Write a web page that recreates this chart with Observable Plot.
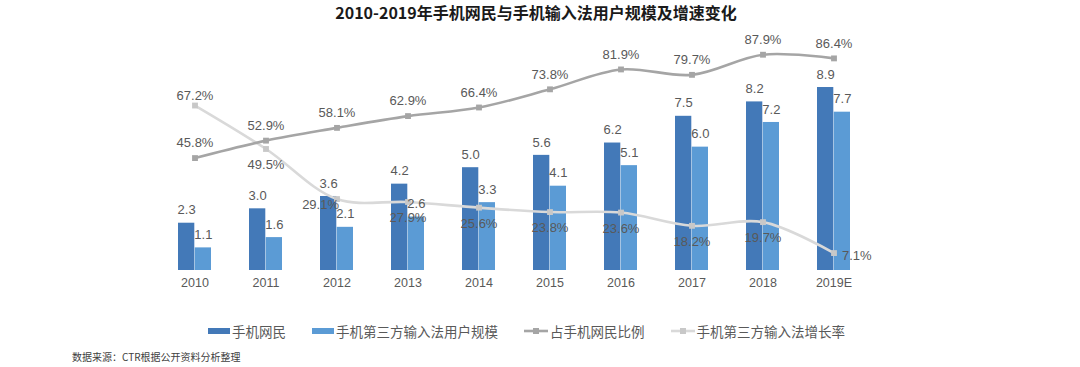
<!DOCTYPE html>
<html>
<head>
<meta charset="utf-8">
<script src="https://cdn.jsdelivr.net/npm/d3@7"></script>
<script src="https://cdn.jsdelivr.net/npm/@observablehq/plot@0.6"></script>
<style>
  html, body { margin: 0; padding: 0; background: #fff; }
  body { width: 1080px; height: 367px; overflow: hidden; position: relative; font-family: "Liberation Sans", Arial, sans-serif; }
  #title { position: absolute; left: 0; top: 0; width: 1072px; height: 25px; line-height: 25px; text-align: center;
    font-family: "Noto Sans CJK SC", sans-serif; font-weight: bold; font-size: 16px; color: #1a1a1a; }
  #chart { position: absolute; left: 0; top: 26px; }
  #chart svg { overflow: visible; }
  #legend { position: absolute; left: 208px; top: 320px; height: 22px; display: flex; align-items: center;
    font-family: "Noto Sans CJK SC", sans-serif; font-size: 13.5px; color: #595959; }
  .item { display: flex; align-items: center; margin-right: 26px; }
  .item svg { margin-right: 2px; }
  #source { position: absolute; left: 72px; top: 349px; font-family: "Noto Sans CJK SC", sans-serif; font-size: 10px; color: #404040; }
</style>
</head>
<body>
<div id="title">2010-2019年手机网民与手机输入法用户规模及增速变化</div>
<div id="chart"></div>
<div id="legend"></div>
<div id="source">数据来源：CTR根据公开资料分析整理</div>
<script>
// ---- data ----
const years = ["2010","2011","2012","2013","2014","2015","2016","2017","2018","2019E"];
const mobileNetizens = [2.3, 3.0, 3.6, 4.2, 5.0, 5.6, 6.2, 7.5, 8.2, 8.9];       // 手机网民 (亿)
const imeUsers       = [1.1, 1.6, 2.1, 2.6, 3.3, 4.1, 5.1, 6.0, 7.2, 7.7];       // 手机第三方输入法用户规模 (亿)
const imeShare       = [45.8, 52.9, 58.1, 62.9, 66.4, 73.8, 81.9, 79.7, 87.9, 86.4]; // 占手机网民比例 (%)
const imeGrowth      = [67.2, 49.5, 29.1, 27.9, 25.6, 23.8, 23.6, 18.2, 19.7, 7.1];  // 手机第三方输入法增长率 (%)
const seriesNames = ["手机网民", "手机第三方输入法用户规模", "占手机网民比例", "手机第三方输入法增长率"];

// ---- styles ----
const darkBlue = "#4379b8";
const lightBlue = "#5b9bd5";
const shareGray = "#a5a5a5";
const growthGray = "#d9d9d9";
const growthMarker = "#c8c8c8";
const labelColor = "#595959";
const PCT = 0.1194; // secondary (percent) axis expressed in primary-axis units
const half = 16.7;

const rows = years.map((y, i) => ({
  year: y, a: mobileNetizens[i], b: imeUsers[i], share: imeShare[i], growth: imeGrowth[i],
  shareY: imeShare[i] * PCT, growthY: imeGrowth[i] * PCT
}));

const txt = {fill: labelColor, fontSize: 13, fontFamily: "Liberation Sans, Arial, sans-serif", stroke: "none"};

const chart = Plot.plot({
  width: 1080,
  height: 290,
  marginLeft: 137,
  marginRight: 188,
  marginTop: 0,
  marginBottom: 46,
  style: {background: "transparent", overflow: "visible"},
  x: {type: "band", domain: years, padding: 0.534, label: null, tickSize: 0, tickPadding: 8},
  y: {domain: [0, 10], range: [244, 38.4], axis: null},
  marks: [
    Plot.axisX({tickSize: 0, tickPadding: 8, fontSize: 12.5, color: labelColor, label: null,
      fontFamily: "Liberation Sans, Arial, sans-serif"}),
    Plot.barY(rows, {x: "year", y: "a", fill: darkBlue, insetRight: half}),
    Plot.barY(rows, {x: "year", y: "b", fill: lightBlue, insetLeft: half}),
    Plot.lineY(rows, {x: "year", y: "growthY", stroke: growthGray, strokeWidth: 2.6, curve: "catmull-rom"}),
    Plot.dot(rows, {x: "year", y: "growthY", symbol: "square", r: 3.3, fill: growthMarker, stroke: "none"}),
    Plot.lineY(rows, {x: "year", y: "shareY", stroke: shareGray, strokeWidth: 2.6, curve: "catmull-rom"}),
    Plot.dot(rows, {x: "year", y: "shareY", symbol: "square", r: 3.3, fill: shareGray, stroke: "none"}),
    // bar labels
    Plot.text(rows, {x: "year", y: "a", text: d => d.a.toFixed(1), dx: -half / 2, dy: -13, ...txt}),
    Plot.text(rows, {x: "year", y: "b", text: d => d.b.toFixed(1), dx: half / 2, dy: -13, ...txt}),
    // share labels
    Plot.text(rows, {x: "year", y: "shareY", text: d => d.share.toFixed(1) + "%", dy: -15, ...txt}),
    // growth labels
    Plot.text(rows.filter(d => d.year === "2010"), {x: "year", y: "growthY", text: d => d.growth.toFixed(1) + "%", dy: -10, ...txt}),
    Plot.text(rows.filter(d => d.year === "2012"), {x: "year", y: "growthY", text: d => d.growth.toFixed(1) + "%", dx: 2, dy: 6, textAnchor: "end", ...txt}),
    Plot.text(rows.filter(d => d.year === "2019E"), {x: "year", y: "growthY", text: d => d.growth.toFixed(1) + "%", dx: 8, dy: 3, textAnchor: "start", ...txt}),
    Plot.text(rows.filter(d => !["2010", "2012", "2019E"].includes(d.year)), {x: "year", y: "growthY", text: d => d.growth.toFixed(1) + "%", dy: 16, ...txt})
  ]
});
document.getElementById("chart").appendChild(chart);

// ---- legend ----
const legend = document.getElementById("legend");
const swatches = [
  `<svg width="22" height="8"><rect x="0" y="1" width="22" height="6" fill="${darkBlue}"/></svg>`,
  `<svg width="22" height="8"><rect x="0" y="1" width="22" height="6" fill="${lightBlue}"/></svg>`,
  `<svg width="24" height="8"><line x1="0" x2="24" y1="4" y2="4" stroke="${shareGray}" stroke-width="2.6"/><rect x="9" y="1" width="6" height="6" fill="${shareGray}"/></svg>`,
  `<svg width="24" height="8"><line x1="0" x2="24" y1="4" y2="4" stroke="${growthGray}" stroke-width="2.6"/><rect x="9" y="1" width="6" height="6" fill="${growthMarker}"/></svg>`
];
seriesNames.forEach((name, i) => {
  const item = document.createElement("div");
  item.className = "item";
  item.innerHTML = swatches[i] + `<span>${name}</span>`;
  legend.appendChild(item);
});
</script>
</body>
</html>
